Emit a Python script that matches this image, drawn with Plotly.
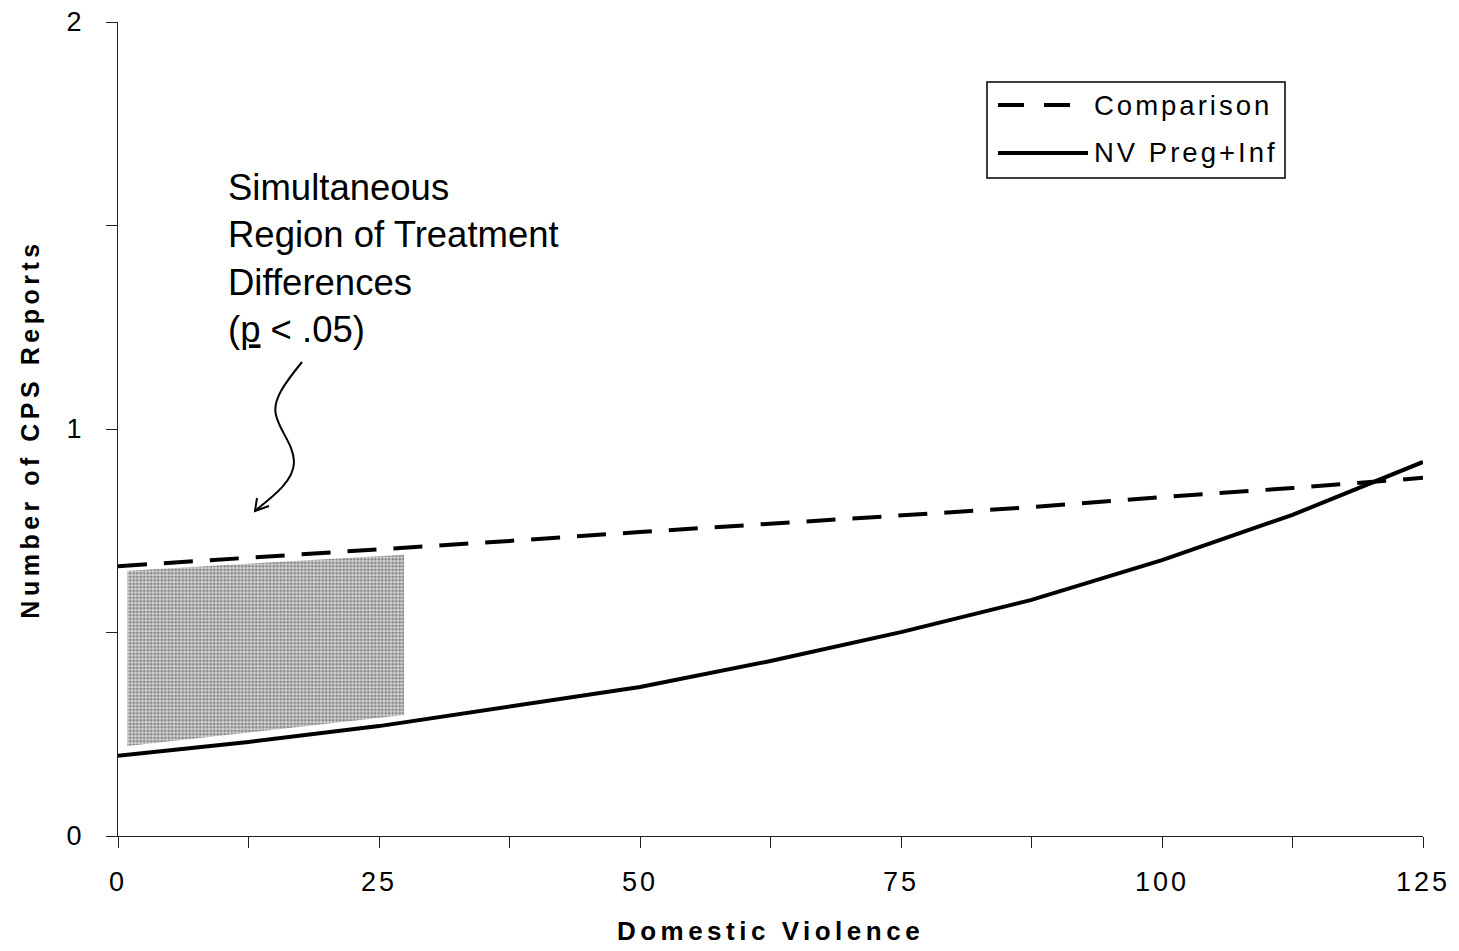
import plotly.graph_objects as go

# Domestic violence levels at which the fitted curves are evaluated
dv_levels = [0, 12.5, 25, 37.5, 50, 62.5, 75, 87.5, 100, 112.5, 125]

# Predicted number of CPS reports for each group
comparison = [0.663, 0.683, 0.705, 0.725, 0.747, 0.767, 0.789, 0.808, 0.833, 0.855, 0.880]
nv_preg_inf = [0.197, 0.231, 0.270, 0.317, 0.366, 0.430, 0.501, 0.580, 0.678, 0.789, 0.919]

# Region of significant treatment differences (p < .05)
region_x = [0.9, 27.4]
region_top = [0.652, 0.691]
region_bottom = [0.221, 0.297]

x_ticks = [0, 25, 50, 75, 100, 125]
y_ticks = [0, 1, 2]

series_names = ["Comparison", "NV Preg+Inf"]

FONT = "Liberation Sans, Arial, Helvetica, sans-serif"

W, H = 1459, 951
M = dict(l=118, r=36, t=22, b=115)
X_RANGE = [0, 125]
Y_RANGE = [0, 2]
PW = W - M["l"] - M["r"]
PH = H - M["t"] - M["b"]


def px_to_data(px, py):
    """Convert page pixels to data coordinates (for the hand-drawn arrow)."""
    x = X_RANGE[0] + (px - M["l"]) / PW * (X_RANGE[1] - X_RANGE[0])
    y = Y_RANGE[0] + (H - M["b"] - py) / PH * (Y_RANGE[1] - Y_RANGE[0])
    return x, y


def px_to_paper(px, py):
    return (px - M["l"]) / PW, (H - M["b"] - py) / PH


fig = go.Figure()

# Stippled significance region
fig.add_trace(go.Scatter(
    x=[region_x[0], region_x[1], region_x[1], region_x[0], region_x[0]],
    y=[region_bottom[0], region_bottom[1], region_top[1], region_top[0], region_bottom[0]],
    mode="lines",
    fill="toself",
    line=dict(width=0, color="rgba(0,0,0,0)"),
    fillcolor="#c8c8c8",
    fillpattern=dict(shape=".", fgcolor="#333333", bgcolor="#d4d4d4",
                     size=3.5, solidity=0.5),
    showlegend=False,
    hoverinfo="skip",
))

line_styles = ["29px,17px", "solid"]
for name, vals, dash in zip(series_names, [comparison, nv_preg_inf], line_styles):
    fig.add_trace(go.Scatter(
        x=dv_levels, y=vals, mode="lines", name=name, showlegend=False,
        line=dict(color="black", width=4, dash=dash),
    ))

# Wavy arrow pointing into the region
pts = [(302, 362), (285, 383), (272, 400), (276, 415),
       (279, 430), (294, 445), (294, 462),
       (294, 480), (275, 495), (256, 510)]
d = [px_to_data(*p) for p in pts]
path = "M {},{} ".format(*d[0])
for i in range(1, len(d), 3):
    path += "C {},{} {},{} {},{} ".format(*d[i], *d[i + 1], *d[i + 2])
fig.add_shape(type="path", path=path, xref="x", yref="y",
              line=dict(color="black", width=2))
b1, tip, b2 = px_to_data(257, 498), px_to_data(255, 511), px_to_data(269, 506)
fig.add_shape(type="path",
              path="M {},{} L {},{} L {},{}".format(*b1, *tip, *b2),
              xref="x", yref="y", line=dict(color="black", width=2))

tx, ty = px_to_data(226, 165)
fig.add_annotation(
    x=tx, y=ty, xref="x", yref="y", xanchor="left", yanchor="top",
    align="left", showarrow=False,
    text="Simultaneous<br>Region of Treatment<br>Differences<br>(<u>p</u> &lt; .05)",
    font=dict(family=FONT, size=36.5, color="black"),
)

# Legend: frame, line samples and labels
lx0, ly1 = px_to_paper(987, 82)
lx1, ly0 = px_to_paper(1285, 178)
fig.add_shape(type="rect", xref="paper", yref="paper",
              x0=lx0, x1=lx1, y0=ly0, y1=ly1,
              line=dict(color="black", width=1.5), fillcolor="white", layer="below")

legend_rows = [105, 153]
legend_dash = ["26px,20px", "solid"]
for name, row, dash in zip(series_names, legend_rows, legend_dash):
    sx0, sy = px_to_paper(998, row)
    sx1, _ = px_to_paper(1073 if dash != "solid" else 1088, row)
    fig.add_shape(type="line", xref="paper", yref="paper",
                  x0=sx0, x1=sx1, y0=sy, y1=sy,
                  line=dict(color="black", width=4, dash=dash))
    ax, ay = px_to_paper(1092, row)
    fig.add_annotation(
        x=ax, y=ay, xref="paper", yref="paper", xanchor="left", yanchor="middle",
        showarrow=False,
        text='<span style="letter-spacing:3px">' + name + "</span>",
        font=dict(family=FONT, size=27.5, color="black"),
    )

fig.update_layout(
    width=W, height=H,
    margin=M,
    paper_bgcolor="white",
    plot_bgcolor="white",
    font=dict(family=FONT, color="black"),
    showlegend=False,
    xaxis=dict(
        range=X_RANGE, tickvals=x_ticks, ticktext=[str(v) for v in x_ticks],
        ticks="outside", ticklen=11, tickwidth=1, tickcolor="#222",
        minor=dict(dtick=12.5, tick0=0, ticks="outside", ticklen=11,
                   tickwidth=1, tickcolor="#222"),
        showline=True, linecolor="#222", linewidth=1.2,
        showgrid=False, zeroline=False, automargin=False,
        tickfont=dict(family=FONT, size=27, color="black"),
        ticklabelstandoff=10,
        title=dict(text="<b>Domestic Violence</b>", standoff=26,
                   font=dict(family=FONT, size=26, color="black")),
    ),
    yaxis=dict(
        range=Y_RANGE, tickvals=y_ticks, ticktext=[str(v) for v in y_ticks],
        ticks="outside", ticklen=11, tickwidth=1, tickcolor="#222",
        minor=dict(dtick=0.5, tick0=0, ticks="outside", ticklen=11,
                   tickwidth=1, tickcolor="#222"),
        showline=True, linecolor="#222", linewidth=1.2,
        showgrid=False, zeroline=False, automargin=False,
        tickfont=dict(family=FONT, size=27, color="black"),
        ticklabelstandoff=16,
        title=dict(text="<b>Number of CPS Reports</b>", standoff=22,
                   font=dict(family=FONT, size=25, color="black")),
    ),
)

spacing_css = (
    "var s=document.createElement('style');"
    "s.textContent='.xtitle,.ytitle{letter-spacing:4.5px}"
    ".xtick text,.ytick text{letter-spacing:3px}';"
    "document.head.appendChild(s);"
)

fig.write_html("out.html", post_script=spacing_css)
